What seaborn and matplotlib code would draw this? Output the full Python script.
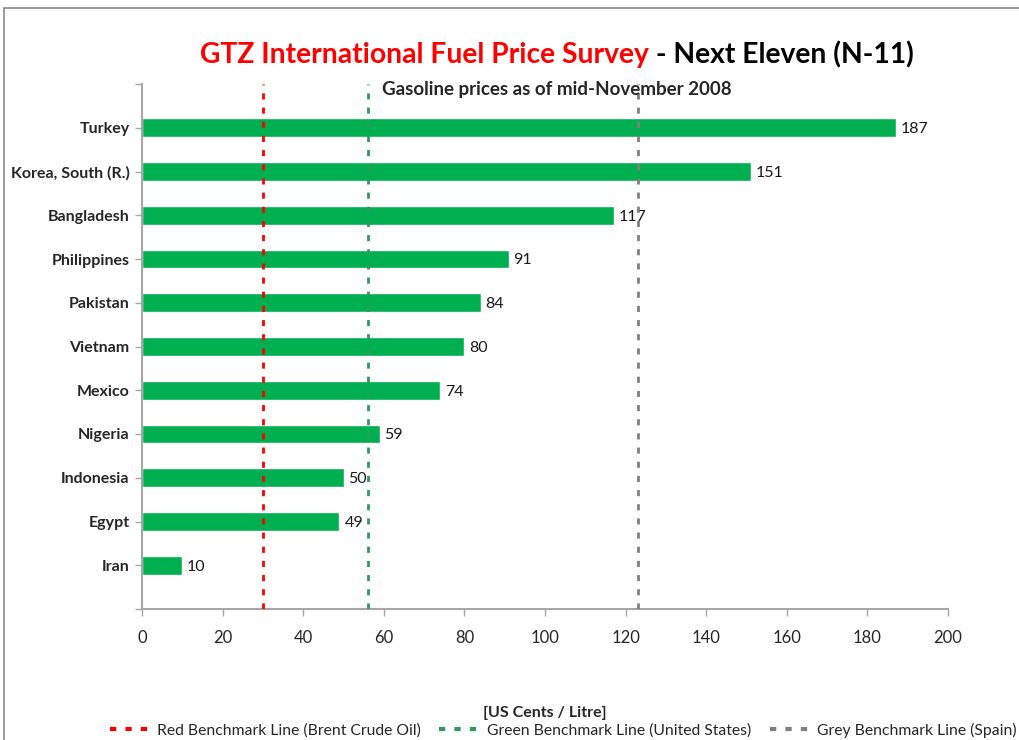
import matplotlib
matplotlib.use("Agg")
import matplotlib.pyplot as plt
import seaborn as sns
import pandas as pd
from matplotlib.lines import Line2D
from matplotlib.patches import Rectangle

countries = ["Turkey", "Korea, South (R.)", "Bangladesh", "Philippines", "Pakistan",
             "Vietnam", "Mexico", "Nigeria", "Indonesia", "Egypt", "Iran"]
prices = [187, 151, 117, 91, 84, 80, 74, 59, 50, 49, 10]
benchmark_names = ["Red Benchmark Line (Brent Crude Oil)",
                   "Green Benchmark Line (United States)",
                   "Grey Benchmark Line (Spain)"]
benchmark_values = [30, 56, 123]
benchmark_colors = ["#FF0000", "#2E9B5E", "#808080"]
x_ticks = [0, 20, 40, 60, 80, 100, 120, 140, 160, 180, 200]

sns.set_theme(style="white")
plt.rcParams['font.family'] = ['Lato', 'DejaVu Sans']

df = pd.DataFrame({"country": countries, "price": prices})

fig = plt.figure(figsize=(10.19, 7.40), dpi=100)
ax = fig.add_axes([142/1019, 1-609/740, (948-142)/1019, (609-84)/740])

sns.barplot(data=df, x="price", y="country", order=countries, color="#00B050",
            width=0.43, saturation=1, ax=ax, orient="h")

for i, v in enumerate(prices):
    ax.text(v + 1.2, i + 0.03, str(v), va="center", ha="left", fontsize=11.5, color="#1a1a1a")

ls = (0, (2.2, 2.9))
for v, c in zip(benchmark_values, benchmark_colors):
    ax.axvline(v, color=c, lw=2, linestyle=ls, zorder=3)

ax.set_xlim(0, 200)
ax.set_ylim(11, -1)
ax.set_xticks(x_ticks)
ax.set_xticklabels([str(t) for t in x_ticks], fontsize=12)
ax.set_yticks(list(range(-1, 12)))
ax.set_yticklabels([""] + countries + [""], fontsize=11.5, fontweight="bold")
ax.set_xlabel("")
ax.set_ylabel("")
for s in ["top", "right"]:
    ax.spines[s].set_visible(False)
for s in ["left", "bottom"]:
    ax.spines[s].set_color("#A6A6A6")
    ax.spines[s].set_linewidth(1.5)
ax.tick_params(axis="both", which="major", direction="out", length=5, width=1,
               color="#A6A6A6", left=True, bottom=True, pad=4)
ax.tick_params(axis="x", pad=10)

# chart border
fig.patches.append(Rectangle((4/1019, -0.1), 1.2, 1 - 8/740 + 0.1, transform=fig.transFigure,
                             fill=False, edgecolor="#8C8C8C", lw=1.2))

# title in two colors
fig.canvas.draw()
r = fig.canvas.get_renderer()
t1 = fig.text(0, 1 - 55/740, "GTZ International Fuel Price Survey", color="#FF0000",
              fontsize=20.3, fontweight="bold", va="center", ha="left")
t2 = fig.text(0, 1 - 55/740, " - Next Eleven (N-11)", color="black",
              fontsize=20.3, fontweight="bold", va="center", ha="left")
w1 = t1.get_window_extent(r).width
w2 = t2.get_window_extent(r).width
start = 557 - (w1 + w2) / 2
t1.set_x(start / 1019)
t2.set_x((start + w1) / 1019)

fig.text(557/1019, 1 - 89/740, "Gasoline prices as of mid-November 2008",
         fontsize=13.5, fontweight="bold", ha="center", va="center")
fig.text(545/1019, 1 - 713/740, "[US Cents / Litre]", fontsize=11.5, fontweight="bold",
         ha="center", va="center")

handles = [Line2D([0], [0], color=c, lw=3, linestyle=(0, (1.5, 2.2))) for c in benchmark_colors]
fig.legend(handles, benchmark_names, loc="center", bbox_to_anchor=(563/1019, 1 - 730/740),
           ncol=3, frameon=False, fontsize=11.3, handlelength=2.6, columnspacing=1.2,
           handletextpad=0.4)

fig.savefig("out.png", dpi=100)
